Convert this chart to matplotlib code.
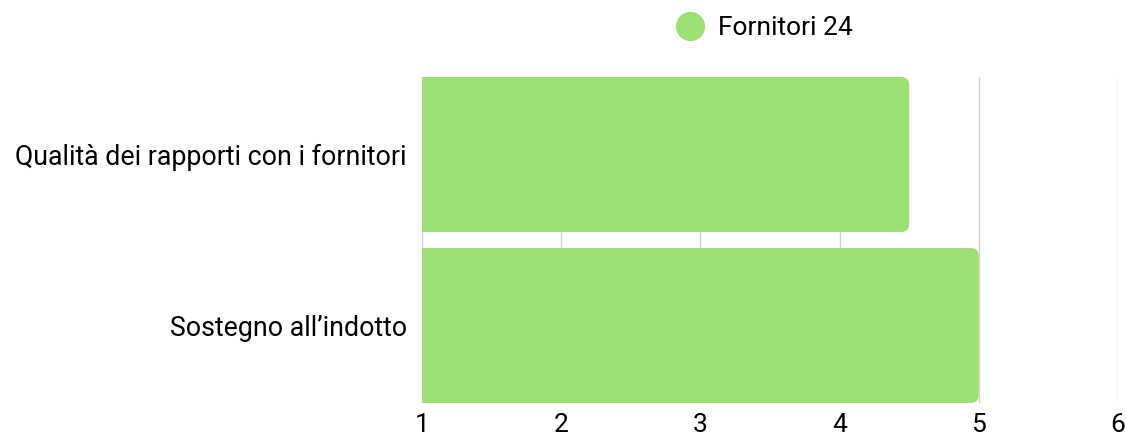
import matplotlib
matplotlib.use("Agg")
import matplotlib.pyplot as plt
from matplotlib.patches import FancyBboxPatch
from matplotlib.lines import Line2D

categories = ["Qualità dei rapporti con i fornitori", "Sostegno all\u2019indotto"]
values = [4.5, 5.0]
series_name = "Fornitori 24"
xticks = [1, 2, 3, 4, 5, 6]
color = "#9de074"

plt.rcParams['font.family'] = ['Roboto', 'DejaVu Sans']

fig = plt.figure(figsize=(11.26, 4.38), dpi=100)
ax = fig.add_axes([422/1126, 35/438, 696/1126, 326/438])

h = 0.906
ypos = list(range(len(categories)))
bars = ax.barh(ypos, [v - 1 for v in values], left=1, height=h, color=color, zorder=2)
ax.set_xlim(1, 6)
ax.set_ylim(len(categories) - 1 + h / 2, -h / 2)

# replace rectangles with right-rounded boxes
px_x = 696 / 5
px_y = 326 / (1 + h)
rx = 8 / px_x
ry = 8 / px_y
for b in bars:
    x0, y0 = b.get_x(), b.get_y()
    w, hh = b.get_width(), b.get_height()
    b.set_visible(False)
    p = FancyBboxPatch((x0 - 0.3, y0), w + 0.3, hh,
                       boxstyle=f"round,pad=0,rounding_size={rx}",
                       mutation_aspect=ry / rx, facecolor=color,
                       edgecolor="none", zorder=2, clip_on=True)
    ax.add_patch(p)

ax.set_xticks(xticks)
ax.set_xticklabels([str(t) for t in xticks], fontsize=19)
ax.set_yticks(ypos)
ax.set_yticklabels(categories, fontsize=19.3)
ax.tick_params(axis='both', length=0)
ax.tick_params(axis='y', pad=11)
ax.tick_params(axis='x', pad=7)
ax.grid(axis='x', color="#d0d0d0", linewidth=1, zorder=0)
ax.set_axisbelow(True)
for s in ax.spines.values():
    s.set_visible(False)

handle = Line2D([], [], marker='o', linestyle='none', markersize=21,
                markerfacecolor=color, markeredgecolor='none')
fig.legend([handle], [series_name], loc='center', bbox_to_anchor=(758/1126, 1 - 28/438),
           frameon=False, fontsize=19, handletextpad=0.05, borderpad=0)

fig.savefig("out.png", dpi=100)
